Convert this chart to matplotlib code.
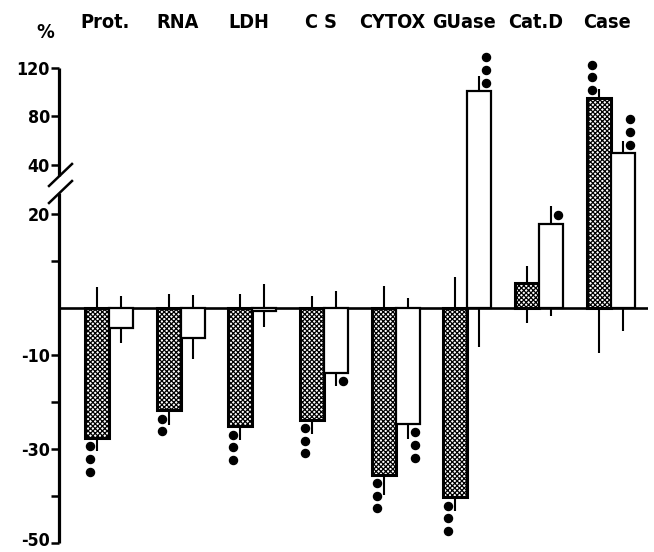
import numpy as np
import matplotlib
matplotlib.use("Agg")
import matplotlib.pyplot as plt
from matplotlib import font_manager
from matplotlib.transforms import ScaledTranslation, blended_transform_factory

# pick a narrow bold font if available
_fl = font_manager.fontManager.ttflist
if any(f.name == 'Liberation Sans Narrow' for f in _fl):
    FONT = dict(family=['Liberation Sans Narrow', 'DejaVu Sans'], fontstretch='normal')
    SCALE = 1.0
elif any(f.name == 'DejaVu Sans' and str(f.stretch) in ('condensed', '400', 'semi-condensed') for f in _fl):
    FONT = dict(family=['DejaVu Sans'], fontstretch='condensed')
    SCALE = 0.95
else:
    FONT = dict(family=['Roboto', 'DejaVu Sans'], fontstretch='normal')
    SCALE = 0.95

plt.rcParams['hatch.linewidth'] = 0.9

# ---- data ----
groups = ["Prot.", "RNA", "LDH", "C S", "CYTOX", "GUase", "Cat.D", "Case"]
hatched_vals = [-27.6, -21.7, -25.1, -23.7, -35.4, -40.2, 5.3, 95.0]
hatched_sem = [2.8, 3.2, 3.0, 3.1, 4.3, 2.9, 3.6, 8.0]
hatched_ctrl = [4.6, 3.1, 3.1, 2.6, 4.8, 6.6, -3.2, -9.5]
hatched_dots = [3, 2, 3, 3, 3, 3, 0, 3]
white_vals = [-4.3, -6.3, -0.6, -13.7, -24.6, 101.0, 18.0, 49.7]
white_sem = [3.2, 4.4, 3.3, 2.9, 3.2, 12.0, 5.4, 10.0]
white_ctrl = [2.6, 2.9, 5.1, 3.6, 2.1, -8.2, -1.6, -4.8]
white_dots = [0, 0, 0, 1, 3, 3, 1, 3]
ytick_vals = [-50, -40, -30, -20, -10, 10, 20, 40, 80, 120]
ytick_labels = ["-50", "", "-30", "", "-10", "", "20", "40", "80", "120"]

# ---- broken-axis scale ----
def fwd(v):
    v = np.asarray(v, dtype=float)
    return np.where(v <= 20, v,
                    np.where(v >= 40, 30.5 + (v - 40) * 0.2575,
                             20 + (v - 20) * 0.525))

def inv(m):
    m = np.asarray(m, dtype=float)
    return np.where(m <= 20, m,
                    np.where(m >= 30.5, 40 + (m - 30.5) / 0.2575,
                             20 + (m - 20) / 0.525))

W, H = 654, 552
fig = plt.figure(figsize=(W / 100, H / 100), dpi=100)
ax = fig.add_axes([59 / W, 8.7 / H, (648 - 59) / W, (543.3 - 68) / H])
ax.set_yscale('function', functions=(fwd, inv))
ax.set_ylim(-50, 120)
ax.set_xlim(-0.698, 7.52)

x = np.arange(len(groups))
w = 0.335
xh = x - w / 2
xw = x + w / 2

ax.bar(xh, hatched_vals, width=w, facecolor='white', edgecolor='black',
       hatch='xxxxxxx', linewidth=2.2, zorder=3)
ax.bar(xw, white_vals, width=w, facecolor='white', edgecolor='black',
       linewidth=1.6, zorder=3)

# zero line
ax.axhline(0, color='black', lw=1.9, zorder=2)

# error lines: treatment SEM at bar end, control SEM at zero
for xs, vals, sems, ctrls in [(xh, hatched_vals, hatched_sem, hatched_ctrl),
                              (xw, white_vals, white_sem, white_ctrl)]:
    for xi, v, s, c in zip(xs, vals, sems, ctrls):
        sgn = 1 if v >= 0 else -1
        ax.vlines(xi, v, v + sgn * s, color='black', lw=1.5, zorder=2)
        ax.vlines(xi, 0, c, color='black', lw=1.5, zorder=2)

# significance dots
def draw_dots(xs, vals, counts, side):
    for xi, v, n in zip(xs, vals, counts):
        sgn = 1 if v >= 0 else -1
        for k in range(n):
            dy = sgn * (8.5 + 12.6 * k) / 100
            dx = side * 7 / 100
            tr = ax.transData + ScaledTranslation(dx, dy, fig.dpi_scale_trans)
            ax.plot([xi], [v], marker='o', ms=5.8, color='black',
                    transform=tr, clip_on=False, zorder=4)

draw_dots(xh, hatched_vals, hatched_dots, -1)
draw_dots(xw, white_vals, white_dots, 1)

# axes styling
for sp in ax.spines.values():
    sp.set_visible(False)
ax.set_xticks([])
ax.set_yticks(ytick_vals)
ax.set_yticklabels(ytick_labels)
ax.minorticks_off()
ax.tick_params(axis='y', length=5.5, width=1.8, pad=1)
for lab in ax.get_yticklabels():
    lab.set_fontweight('bold')
    lab.set_family(FONT['family'])
    lab.set_fontstretch(FONT['fontstretch'])
    lab.set_fontsize(13.5 * SCALE)
# keep the bottom label inside the canvas
bottom_lab = ax.get_yticklabels()[0]
bottom_lab.set_verticalalignment('bottom')
bottom_lab.set_transform(bottom_lab.get_transform() +
                         ScaledTranslation(0, -6.5 / 100, fig.dpi_scale_trans))

# broken left axis
yt = ax.get_yaxis_transform()
ax.plot([0, 0], [-50, 28.6], color='black', lw=2.3, transform=yt,
        clip_on=False, solid_capstyle='butt')
ax.plot([0, 0], [35.4, 120], color='black', lw=2.3, transform=yt,
        clip_on=False, solid_capstyle='butt')
inv_fig = fig.transFigure.inverted()
x0 = ax.transAxes.transform((0, 0))[0]
for yc in [29.0, 35.9]:
    cy = ax.transData.transform((0, yc))[1]
    cx = x0 + 1.5
    fx0, fy0 = inv_fig.transform((cx - 11.5, cy - 11))
    fx1, fy1 = inv_fig.transform((cx + 11.5, cy + 11))
    fig.add_artist(plt.Line2D([fx0, fx1], [fy0, fy1], color='black', lw=1.8))

# group labels
lab_tr = blended_transform_factory(ax.transData, fig.transFigure)
for i, g in enumerate(groups):
    ax.text(i - 0.05, (552 - 23) / H, g, transform=lab_tr,
            ha='center', va='center', fontsize=15 * SCALE, fontweight='bold',
            family=FONT['family'], fontstretch=FONT['fontstretch'])
fig.text(45 / W, (552 - 33) / H, "%", ha='center', va='center',
         fontsize=15 * SCALE, fontweight='bold',
         family=FONT['family'], fontstretch=FONT['fontstretch'])

fig.savefig("out.png", dpi=100)
